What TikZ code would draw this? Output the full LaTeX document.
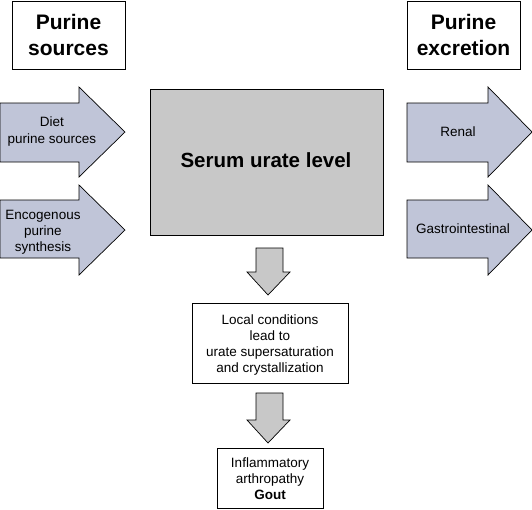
\documentclass[tikz,border=0pt]{standalone}
\usepackage{fontspec}
\setmainfont{Liberation Sans}
\begin{document}
\begin{tikzpicture}[x=1pt,y=-1pt,
  title/.style={font=\bfseries\fontsize{21}{26}\selectfont,align=center,inner sep=0pt},
  small/.style={font=\fontsize{13.5}{16}\selectfont,align=center,inner sep=0pt},
  harrow/.style={draw=black,line width=0.7pt,fill=arrowblue},
  varrow/.style={draw=black,line width=0.7pt,fill=boxgray},
  plainbox/.style={draw=black,line width=0.8pt,fill=white}]
\definecolor{arrowblue}{RGB}{192,197,216}
\definecolor{boxgray}{RGB}{200,200,200}
\useasboundingbox (0,0) rectangle (532,509);
% title boxes
\draw[plainbox] (12,1) rectangle (125,69);
\node[title] (ps) at (68.5,35) {Purine\\sources};
\draw[plainbox] (407,1) rectangle (520,69);
\node[title] (pe) at (463.5,35) {Purine\\excretion};
% left arrows
\draw[harrow] (0,103) -- (79,103) -- (79,87) -- (125,132) -- (79,177) -- (79,162) -- (0,162) -- cycle;
\node[small,font=\fontsize{13.5}{17}\selectfont] (diet) at (52,132) {Diet\\purine sources};
\draw[harrow] (0,200) -- (79,200) -- (79,185) -- (125,230) -- (79,275) -- (79,258) -- (0,258) -- cycle;
\node[small] (endo) at (43,232) {Encogenous\\purine\\synthesis};
% right arrows
\draw[harrow] (407,103) -- (488,103) -- (488,87) -- (532,132) -- (488,177) -- (488,162) -- (407,162) -- cycle;
\node[small] (renal) at (458,132) {Renal};
\draw[harrow] (407,200) -- (488,200) -- (488,185) -- (532,230) -- (488,275) -- (488,258) -- (407,258) -- cycle;
\node[small] (gi) at (463,229) {Gastrointestinal};
% central box
\draw[draw=black,line width=0.8pt,fill=boxgray] (150,89) rectangle (383,235);
\node[font=\bfseries\fontsize{20.5}{24}\selectfont,inner sep=0pt] (serum) at (266,160) {Serum urate level};
% down arrow 1
\draw[varrow] (256,248) -- (283,248) -- (283,272) -- (290,272) -- (268,295) -- (247,272) -- (256,272) -- cycle;
% local conditions box
\draw[plainbox] (192,303) rectangle (348,383);
\node[small] (local) at (270,345) {Local conditions\\lead to\\urate supersaturation\\and crystallization};
% down arrow 2
\draw[varrow] (256,393) -- (283,393) -- (283,420) -- (290,420) -- (268,443) -- (247,420) -- (256,420) -- cycle;
% gout box
\draw[plainbox] (217,448) rectangle (323,508.5);
\node[small] (gout) at (270,479) {Inflammatory\\arthropathy\\\textbf{Gout}};
\end{tikzpicture}
\end{document}
